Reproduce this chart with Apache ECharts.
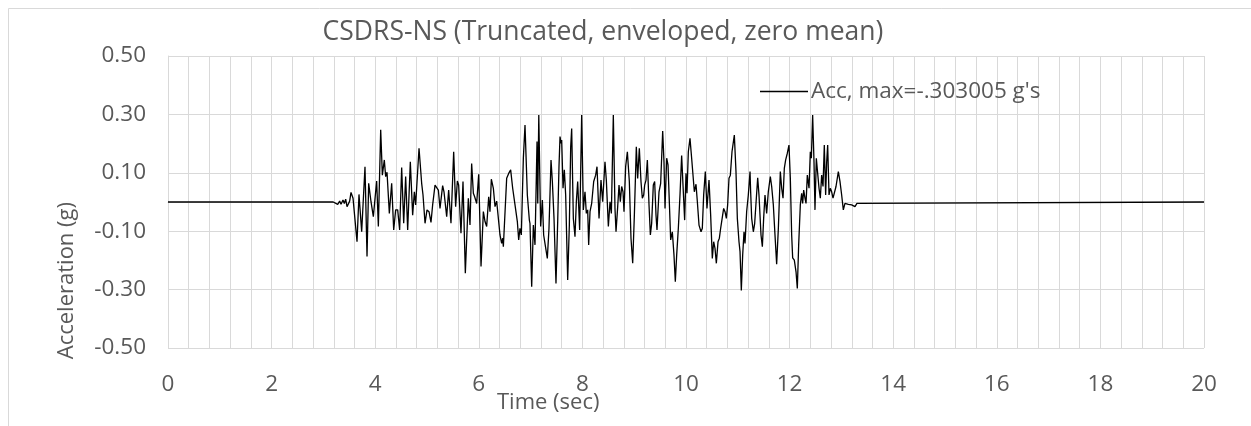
<!DOCTYPE html>
<html>
<head>
<meta charset="utf-8">
<script src="https://cdn.jsdelivr.net/npm/echarts@6/dist/echarts.min.js"></script>
<style>
html,body{margin:0;padding:0;background:#fff;}
#c{width:1251px;height:426px;}
</style>
</head>
<body>
<div id="c"></div>
<script>
const titleText = "CSDRS-NS (Truncated, enveloped, zero mean)";
const seriesName = "Acc, max=-.303005 g's";
const xTitle = "Time (sec)";
const yTitle = "Acceleration (g)";
const xTicks = [0, 2, 4, 6, 8, 10, 12, 14, 16, 18, 20];
const yTicks = [-0.50, -0.30, -0.10, 0.10, 0.30, 0.50];

const time = [
0,3.19,3.224,3.276,3.314,3.340,3.378,3.404,3.430,3.456,3.481,3.507,3.533,3.572,3.649,3.687,3.739,3.803,3.842,3.874,
3.919,3.964,4.028,4.061,4.106,4.138,4.176,4.202,4.228,4.273,4.318,4.357,4.395,4.434,4.472,4.511,4.550,4.588,4.627,4.678,
4.723,4.756,4.781,4.846,4.897,4.923,4.962,5.000,5.039,5.077,
5.109,5.155,5.187,5.219,5.251,5.302,5.328,5.380,5.418,5.463,5.515,5.553,5.586,5.611,5.656,5.695,5.740,5.798,5.830,5.862,
5.895,5.920,5.959,5.998,6.043,6.088,6.120,6.152,6.191,6.216,6.242,6.281,6.313,6.345,6.409,6.441,6.461,6.474,6.538,6.577,
6.615,6.654,6.699,6.744,6.770,6.795,6.821,6.860,6.892,6.937,6.976,6.988,7.021,7.053,7.085,7.124,7.138,7.158,
7.194,7.227,7.252,7.278,7.323,7.355,7.394,7.420,7.452,7.490,7.523,7.548,7.568,7.587,7.600,7.626,7.651,7.677,7.716,7.748,
7.774,7.793,7.825,7.857,7.883,7.909,7.947,7.986,8.018,8.050,8.076,8.102,8.121,8.147,8.179,8.218,8.256,8.282,8.321,8.359,
8.391,8.436,8.462,8.501,8.533,8.559,8.597,8.629,8.649,8.675,8.707,8.732,8.758,8.784,8.803,8.835,8.868,8.906,8.938,8.971,
9.003,9.041,9.067,9.099,9.131,9.157,9.183,
9.202,9.228,9.254,9.286,9.312,9.337,9.369,9.395,9.421,9.440,9.479,9.511,9.550,9.575,9.595,9.627,9.653,9.678,9.704,9.736,
9.768,9.794,9.820,9.852,9.884,9.916,9.942,9.974,10.000,10.019,10.045,10.077,10.109,10.129,10.161,10.193,10.219,10.251,10.290,10.315,
10.341,10.373,10.405,10.444,10.476,10.508,10.534,10.560,10.586,10.618,10.644,10.669,10.701,10.727,10.753,10.779,10.804,10.830,10.856,10.888,
10.933,10.965,10.991,11.023,11.043,11.068,11.094,11.120,11.139,11.171,11.203,11.236,
11.248,11.268,11.300,11.326,11.351,11.384,11.409,11.448,11.474,11.499,11.525,11.557,11.589,11.628,11.654,11.686,11.718,11.750,11.783,11.821,
11.847,11.873,11.898,11.924,11.956,11.988,12.014,12.040,12.059,12.091,12.124,12.149,12.175,12.207,12.233,12.252,12.272,12.297,12.317,12.342,
12.375,12.400,12.420,12.445,12.471,12.490,12.516,12.542,12.568,12.593,12.619,12.645,12.670,12.696,12.716,12.735,12.761,12.786,12.812,12.838,
12.864,12.896,12.941,12.973,13.005,13.037,13.069,13.102,13.134,13.166,13.198,13.230,13.262,13.300,13.330,20
];

const acc = [
0,0,0,-0.008,0.003,-0.008,0.007,-0.005,0.010,-0.016,-0.022,0.003,0.033,0.013,-0.136,0.026,-0.102,0.121,-0.187,0.064,
0.001,-0.050,0.072,-0.084,0.247,0.092,0.144,0.087,0.102,-0.039,0.064,-0.096,-0.027,-0.027,-0.096,0.118,-0.073,0.087,-0.096,0.138,
-0.045,0.035,-0.010,0.184,0.064,0.024,-0.073,-0.027,-0.033,-0.070,
-0.010,0.058,0.064,0.041,-0.022,0.056,0.035,-0.050,0.041,-0.073,0.172,-0.016,0.072,0.058,-0.107,0.070,-0.244,0.013,-0.079,0.132,
0.030,0.018,-0.005,0.095,-0.221,-0.033,-0.067,-0.084,0.018,-0.033,0.078,0.047,-0.016,0.003,-0.113,-0.142,-0.124,-0.153,0.081,0.098,
0.110,0.047,-0.010,-0.067,-0.130,-0.090,-0.113,0.150,0.264,0.024,-0.062,-0.073,-0.290,-0.079,-0.147,0.207,-0.005,0.298,
-0.084,0.007,-0.113,-0.107,-0.193,-0.090,0.144,0.070,-0.056,-0.279,-0.067,0.121,0.224,0.201,0.212,0.047,0.110,0.024,-0.267,-0.079,
0.189,0.252,-0.056,-0.119,0.001,0.070,-0.096,0.298,-0.027,0.035,-0.039,-0.027,-0.147,-0.033,-0.005,0.070,0.092,0.121,-0.056,0.075,
0.001,0.138,0.075,-0.084,0.001,-0.039,0.298,-0.022,-0.102,-0.033,0.058,0.001,0.053,0.035,-0.033,0.121,0.172,0.070,-0.124,-0.210,
-0.045,0.189,0.081,0.184,0.070,0.013,0.024,
0.058,0.075,0.144,-0.010,-0.113,-0.073,0.058,0.070,-0.045,-0.096,0.035,0.064,0.243,0.138,-0.022,0.150,0.127,0.001,-0.130,-0.102,
-0.182,-0.273,-0.182,-0.090,0.024,0.159,0.058,-0.062,0.098,0.030,0.172,0.218,0.150,0.144,0.035,0.061,0.001,-0.079,-0.102,-0.090,
0.024,0.104,-0.022,0.075,-0.045,-0.193,-0.136,-0.159,-0.210,-0.136,-0.124,-0.090,-0.084,-0.022,-0.033,-0.056,-0.010,0.081,0.092,0.172,
0.229,0.104,-0.056,-0.136,-0.170,-0.303,-0.182,-0.102,-0.142,-0.033,0.024,0.104,
0.035,-0.056,-0.102,-0.073,-0.070,0.083,0.024,-0.113,-0.153,-0.056,0.024,-0.039,0.035,0.087,0.053,-0.010,-0.113,-0.213,-0.090,0.104,
0.047,0.013,0.115,0.144,0.167,0.195,0.081,-0.113,-0.191,-0.199,-0.239,-0.296,-0.147,-0.010,0.030,-0.005,0.041,0.013,-0.005,0.092,
0.047,0.172,0.150,0.298,0.138,-0.027,0.150,0.098,0.047,0.013,0.092,0.053,0.195,0.024,0.138,0.195,0.024,0.047,0.035,0.013,
0.018,0.053,0.104,0.070,0.024,-0.027,-0.005,0.001,-0.008,-0.005,-0.010,-0.010,-0.016,-0.005,0,0
];

const data = time.map((t, i) => [t, acc[i]]);
const txt = '#595959';
const gridC = '#d9d9d9';
const FONT = 'Open Sans';

const chart = echarts.init(document.getElementById('c'));
chart.setOption({
  animation: false,
  backgroundColor: '#fff',
  textStyle: { fontFamily: FONT },
  title: {
    text: titleText, left: 598, top: 14, textAlign: 'center',
    textStyle: { color: txt, fontSize: 26.5, fontWeight: 'normal', fontFamily: FONT }
  },
  legend: {
    left: 755, top: 75, itemWidth: 48, itemHeight: 1.5, icon: 'rect', itemGap: 5,
    textStyle: { color: txt, fontSize: 22.5, fontFamily: FONT, padding: [0,0,0,-2] },
    data: [seriesName]
  },
  grid: { left: 168, right: 47, top: 56, bottom: 78 },
  xAxis: {
    type: 'value', min: 0, max: 20, interval: 2,
    axisLine: { show: true, lineStyle: { color: gridC } },
    axisTick: { show: false },
    minorTick: { show: false, splitNumber: 5 },
    minorSplitLine: { show: true, lineStyle: { color: gridC, width: 1 } },
    splitLine: { show: true, lineStyle: { color: gridC, width: 1 } },
    axisLabel: { color: txt, fontSize: 22.5, fontFamily: FONT, margin: 25,
      formatter: v => xTicks.includes(v) ? String(v) : '' }
  },
  yAxis: {
    type: 'value', min: -0.5, max: 0.5, interval: 0.2,
    axisLine: { show: true, lineStyle: { color: gridC } },
    axisTick: { show: false },
    splitLine: { show: true, lineStyle: { color: gridC, width: 1 } },
    axisLabel: { color: txt, fontSize: 22.5, fontFamily: FONT, margin: 22,
      formatter: v => {
        const m = yTicks.find(y => Math.abs(y - v) < 1e-6);
        return m === undefined ? '' : m.toFixed(2);
      } }
  },
  graphic: [
    { type: 'rect', left: 6, top: 6, shape: { width: 1400, height: 600 },
      style: { fill: 'none', stroke: gridC, lineWidth: 1 }, silent: true, z: -1 },
    { type: 'text', left: 497, top: 392,
      style: { text: xTitle, fill: txt, font: '22px "Open Sans"' } },
    { type: 'text', left: 56, top: 202, rotation: Math.PI / 2, originX: 0, originY: 0,
      style: { text: yTitle, fill: txt, font: '22px "Open Sans"', textAlign: 'center', textVerticalAlign: 'middle' } }
  ],
  series: [{
    name: seriesName, type: 'line', data: data, showSymbol: false, symbol: 'none',
    lineStyle: { color: '#000', width: 1.3 }, itemStyle: { color: '#000' }
  }]
});
</script>
</body>
</html>
